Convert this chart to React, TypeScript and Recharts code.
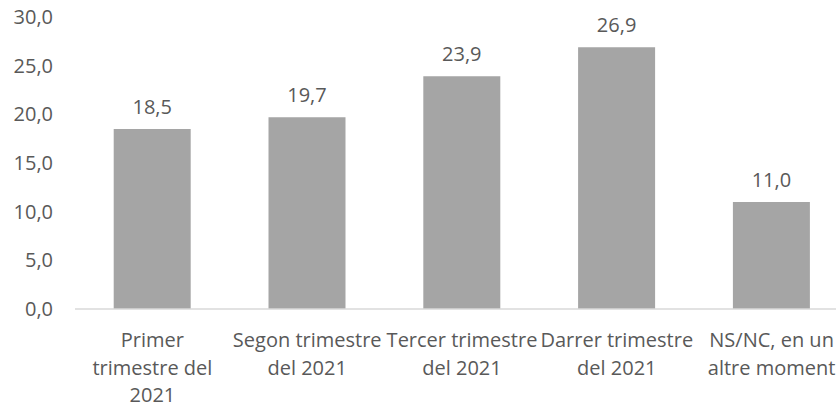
import { Bar, BarChart, LabelList, XAxis, YAxis } from "recharts";

const categories = [
  "Primer trimestre del 2021",
  "Segon trimestre del 2021",
  "Tercer trimestre del 2021",
  "Darrer trimestre del 2021",
  "NS/NC, en un altre moment",
];
// how each category label wraps in the picture
const tickLines = [
  ["Primer", "trimestre del", "2021"],
  ["Segon trimestre", "del 2021"],
  ["Tercer trimestre", "del 2021"],
  ["Darrer trimestre", "del 2021"],
  ["NS/NC, en un", "altre moment"],
];
const values = [18.5, 19.7, 23.9, 26.9, 11.0];
const yTicks = [0, 5, 10, 15, 20, 25, 30];

const data = categories.map((name, i) => ({ name, value: values[i], lines: tickLines[i] }));

const FONT = "'Open Sans', sans-serif";
const SIZE = 20;
const TEXT = "#595959";
const fmt = (v: number) => v.toFixed(1).replace(".", ",");

function CategoryTick({ x, y, index }: any) {
  const lines = tickLines[index] || [];
  return (
    <text x={x} y={y} textAnchor="middle" fill={TEXT} fontSize={SIZE} fontFamily={FONT}>
      {lines.map((l, i) => (
        <tspan key={i} x={x} dy={i === 0 ? 38 : 27.5}>
          {l}
        </tspan>
      ))}
    </text>
  );
}

export default function App() {
  return (
    <div
      style={{
        position: "absolute",
        left: 0,
        top: 0,
        width: 836,
        height: 407,
        overflow: "hidden",
        background: "#fff",
      }}
    >
      <BarChart
        width={849}
        height={407}
        data={data}
        margin={{ top: 17, right: 0, bottom: 0, left: 0 }}
        barCategoryGap="25%"
      >
        <XAxis
          dataKey="name"
          height={98}
          interval={0}
          tickSize={0}
          tickMargin={0}
          axisLine={{ stroke: "#D9D9D9", strokeWidth: 1.5 }}
          tickLine={false}
          tick={<CategoryTick />}
        />
        <YAxis
          width={75}
          domain={[0, 30]}
          ticks={yTicks}
          interval={0}
          axisLine={false}
          tickLine={false}
          tickSize={0}
          tickMargin={22}
          tickFormatter={fmt}
          tick={{ fill: TEXT, fontSize: SIZE, fontFamily: FONT }}
        />
        <Bar dataKey="value" fill="#A5A5A5" isAnimationActive={false}>
          <LabelList
            dataKey="value"
            position="top"
            offset={15}
            formatter={(v: any) => fmt(Number(v))}
            fill={TEXT}
            fontSize={SIZE}
            fontFamily={FONT}
          />
        </Bar>
      </BarChart>
    </div>
  );
}
